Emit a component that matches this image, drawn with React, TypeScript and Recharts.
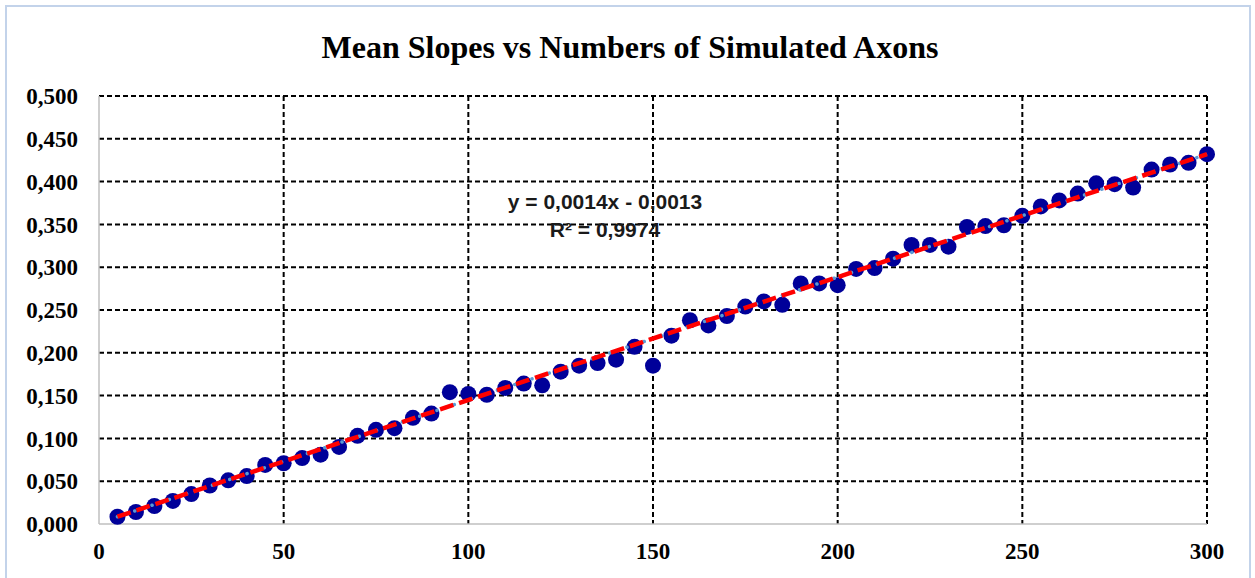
import React from 'react';
import { ScatterChart, Scatter, XAxis, YAxis, CartesianGrid } from 'recharts';

const axonCounts = [
  5, 10, 15, 20, 25, 30, 35, 40, 45, 50, 55, 60, 65, 70, 75, 80, 85, 90, 95, 100,
  105, 110, 115, 120, 125, 130, 135, 140, 145, 150, 155, 160, 165, 170, 175, 180, 185, 190, 195, 200,
  205, 210, 215, 220, 225, 230, 235, 240, 245, 250, 255, 260, 265, 270, 275, 280, 285, 290, 295, 300,
];

const meanSlopes = [
  0.0085, 0.014, 0.021, 0.027, 0.035, 0.045, 0.051, 0.056, 0.069, 0.071,
  0.077, 0.081, 0.09, 0.103, 0.11, 0.112, 0.124, 0.129, 0.154, 0.152,
  0.151, 0.159, 0.164, 0.162, 0.178, 0.185, 0.188, 0.192, 0.207, 0.185,
  0.22, 0.238, 0.232, 0.243, 0.254, 0.26, 0.256, 0.281, 0.281, 0.279,
  0.298, 0.299, 0.31, 0.326, 0.326, 0.324, 0.347, 0.348, 0.349, 0.36,
  0.371, 0.378, 0.386, 0.398, 0.397, 0.393, 0.414, 0.42, 0.422, 0.432,
];

// linear trend end points (y = 0,0014x - 0,0013)
const trendX = [5, 300];
const trendY = [0.0085, 0.432];

const xTicks = [0, 50, 100, 150, 200, 250, 300];
const yTicks = [0, 0.05, 0.1, 0.15, 0.2, 0.25, 0.3, 0.35, 0.4, 0.45, 0.5];

const points = axonCounts.map((x, i) => ({ x, y: meanSlopes[i] }));
const trend = trendX.map((x, i) => ({ x, y: trendY[i] }));

const serif = '"Liberation Serif", "Times New Roman", serif';
const sans = '"Liberation Sans", Arial, sans-serif';

const fmtY = (v: number) => v.toFixed(3).replace('.', ',');

const App: React.FC = () => {
  return (
    <div style={{ position: 'absolute', left: 0, top: 0, width: 1255, height: 578, background: '#fff', overflow: 'hidden' }}>
      <div
        style={{
          position: 'absolute', left: 5, top: 5, width: 1246, height: 600,
          border: '2px solid #c3d3ea', boxSizing: 'border-box',
        }}
      />
      <div
        style={{
          position: 'absolute', left: 0, width: 1260, top: 27, textAlign: 'center',
          fontFamily: serif, fontWeight: 'bold', fontSize: 32, lineHeight: '40px',
        }}
      >
        Mean Slopes vs Numbers of Simulated Axons
      </div>
      <ScatterChart width={1255} height={578} margin={{ top: 96, right: 48, bottom: 0, left: 0 }}>
        <CartesianGrid
          stroke="#000"
          strokeWidth={2}
          strokeDasharray="5 3"
          horizontalValues={yTicks.slice(1)}
          verticalValues={xTicks.slice(1)}
        />
        <XAxis
          type="number"
          dataKey="x"
          domain={[0, 300]}
          ticks={xTicks}
          height={54}
          axisLine={{ stroke: '#bfbfbf', strokeWidth: 1.5 }}
          tickLine={false}
          tickSize={0}
          tickMargin={19}
          tick={{ fill: '#000', fontFamily: serif, fontWeight: 'bold', fontSize: 23 }}
        />
        <YAxis
          type="number"
          dataKey="y"
          domain={[0, 0.5]}
          ticks={yTicks}
          width={99}
          axisLine={{ stroke: '#bfbfbf', strokeWidth: 1.5 }}
          tickLine={false}
          tickSize={0}
          tickMargin={21}
          tickFormatter={fmtY}
          tick={{ fill: '#000', fontFamily: serif, fontWeight: 'bold', fontSize: 23 }}
        />
        <Scatter data={points} fill="#000099" isAnimationActive={false}
          shape={(p: any) => <circle cx={p.cx} cy={p.cy} r={8} fill="#000099" />} />
        <Scatter
          data={trend}
          fill="#5b9bd5"
          isAnimationActive={false}
          shape={() => <g />}
          line={{ stroke: '#5b9bd5', strokeWidth: 3.5, strokeDasharray: '0.1 9', strokeLinecap: 'round' }}
        />
        <Scatter
          data={trend}
          fill="#ff0000"
          isAnimationActive={false}
          shape={() => <g />}
          line={{ stroke: '#ff0000', strokeWidth: 4.5, strokeDasharray: '14 6' }}
        />
      </ScatterChart>
      <div
        style={{
          position: 'absolute', left: 455, width: 300, top: 188, textAlign: 'center',
          fontFamily: sans, fontWeight: 'bold', fontSize: 21, lineHeight: '28px', color: '#1a1a1a',
        }}
      >
        y = 0,0014x - 0,0013
        <br />
        R² = 0,9974
      </div>
    </div>
  );
};

export default App;
